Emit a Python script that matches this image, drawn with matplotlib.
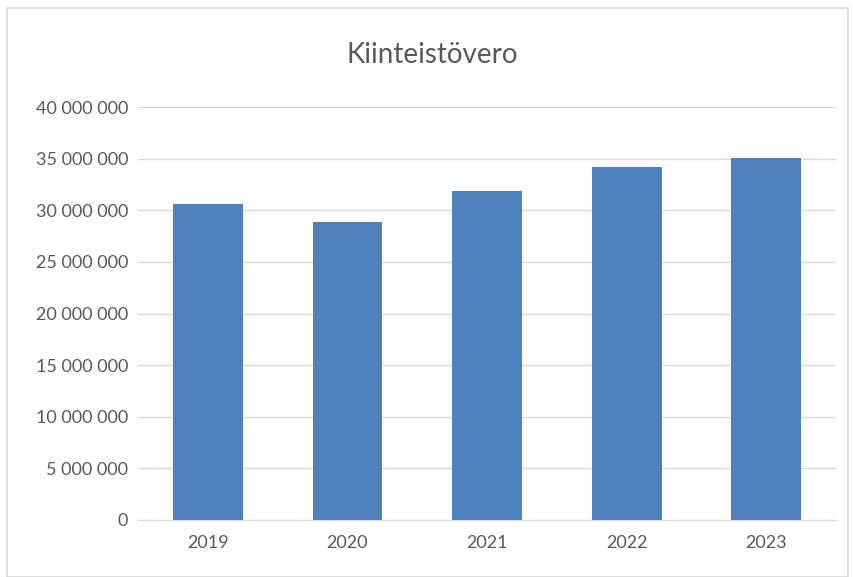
import matplotlib.pyplot as plt
from matplotlib.ticker import FuncFormatter, MultipleLocator
from matplotlib.patches import Rectangle

years = ["2019", "2020", "2021", "2022", "2023"]
tax = [30600000, 28900000, 31900000, 34200000, 35100000]

txt = "#595959"
plt.rcParams["font.family"] = ["Lato", "DejaVu Sans"]

fig = plt.figure(figsize=(8.54, 5.77), dpi=100)
ax = fig.add_axes([138 / 854, 1 - 520 / 577, 698 / 854, 413 / 577])

ax.bar(years, tax, width=0.5, color="#4f81bd", zorder=3)
ax.set_ylim(0, 40000000)
ax.set_xlim(-0.5, len(years) - 0.5)
ax.yaxis.set_major_locator(MultipleLocator(5000000))
ax.yaxis.set_major_formatter(FuncFormatter(lambda v, p: "{:,.0f}".format(v).replace(",", " ")))
ax.grid(axis="y", color="#d9d9d9", lw=1, zorder=0)

for s in ["top", "right", "left"]:
    ax.spines[s].set_visible(False)
ax.spines["bottom"].set_color("#d9d9d9")
ax.tick_params(axis="both", length=0, colors=txt, labelsize=13)
ax.tick_params(axis="y", pad=7)
ax.tick_params(axis="x", pad=11)

fig.text(0.506, 1 - 55 / 577, "Kiinteistövero", ha="center", va="center",
         fontsize=20, color=txt)

# chart border
fig.patches.append(Rectangle((7 / 854, 0), 841 / 854, 1 - 8 / 577, transform=fig.transFigure,
                             fill=False, edgecolor="#d9d9d9", lw=1.2))

fig.savefig("out.png", dpi=100)
